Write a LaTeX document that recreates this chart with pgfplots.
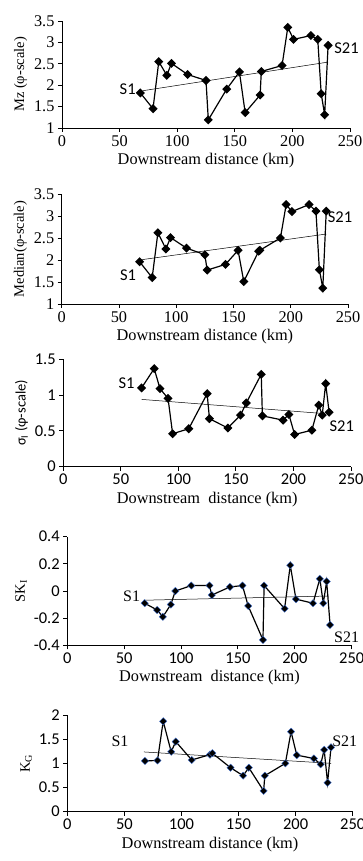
\documentclass[border=0pt]{standalone}
\usepackage{fontspec}
\setmainfont{Liberation Serif}
\newfontfamily\calfont{Carlito}
\usepackage{pgfplots}
\usepackage{pgfplotstable}
\pgfplotsset{compat=1.18}
\definecolor{edgeblue}{RGB}{70,120,220}
\pgfplotsset{
  panel/.style={scale only axis, axis lines*=left, xmin=0, xmax=250,
    xtick={0,50,100,150,200,250}, tick align=outside, major tick length=4pt,
    axis line style={line width=0.9pt}, every tick/.style={black,line width=0.9pt},
    /pgf/number format/assume math mode=true, clip=false, anchor=south west,
    xlabel={Downstream distance (km)},
    label style={font=\fontsize{16.3}{17}\selectfont},
    tick label style={font=\fontsize{16.3}{17}\selectfont},
    ylabel style={font=\fontsize{14.5}{15}\selectfont}},
  calticks/.style={tick label style={font=\calfont\fontsize{16.5}{17}\selectfont}},
  data/.style={black, line width=1.2pt, mark=square*, mark size=2.6pt, mark options={rotate=45, solid}},
  bluedata/.style={black, line width=1.2pt, mark=square*, mark size=2.6pt,
    mark options={rotate=45, solid, fill=black, draw=edgeblue, line width=0.35pt}},
  trend/.style={black, line width=0.5pt, no marks},
}
\pgfplotstableread{
x mz med sig sk kg
68 1.82 1.96 1.10 -0.09 1.05
79 1.45 1.60 1.37 -0.14 1.06
84 2.55 2.62 1.09 -0.19 1.87
91 2.23 2.25 0.955 -0.10 1.24
95 2.51 2.51 0.46 0.00 1.45
109 2.25 2.27 0.53 0.04 1.07
125 2.11 2.12 1.02 0.04 1.18
127 1.19 1.77 0.67 -0.03 1.21
143 1.91 1.90 0.54 0.03 0.91
154 2.31 2.22 0.72 0.04 0.745
159 1.36 1.51 0.89 -0.11 0.91
172 1.77 2.20 1.29 -0.36 0.43
173 2.32 2.22 0.71 0.04 0.745
191 2.46 2.50 0.65 -0.13 1.00
196 3.35 3.26 0.73 0.19 1.655
201 3.07 3.10 0.45 -0.06 1.17
216 3.16 3.26 0.51 -0.09 1.10
222 3.07 3.11 0.86 0.09 0.98
225 1.80 1.78 0.72 -0.09 1.28
228 1.31 1.36 1.16 0.07 0.60
231 2.93 3.11 0.76 -0.25 1.33
}\datatable
\begin{document}
\begin{tikzpicture}
\useasboundingbox (0,0) rectangle (363pt,861pt);
% Panel 1
\begin{axis}[panel, at={(62pt,733pt)}, width=288pt, height=107pt,
  ymin=1, ymax=3.5, ytick={1,1.5,2,2.5,3,3.5},
  ylabel={Mz (φ-scale)}]
\addplot[trend] coordinates {(70,1.87) (231,2.54)};
\addplot[data] table[x=x,y=mz] {\datatable};
\node[font=\calfont\fontsize{16.5}{17}\selectfont] at (axis cs:57,1.91) {S1};
\node[font=\calfont\fontsize{16.5}{17}\selectfont] at (axis cs:247,2.86) {S21};
\end{axis}
% Panel 2
\begin{axis}[panel, at={(61.7pt,557pt)}, width=286.3pt, height=110pt,
  ymin=1, ymax=3.5, ytick={1,1.5,2,2.5,3,3.5},
  ylabel={Median(φ-scale)}]
\addplot[trend] coordinates {(68,2.0) (231,2.59)};
\addplot[data] table[x=x,y=med] {\datatable};
\node[font=\calfont\fontsize{16.5}{17}\selectfont] at (axis cs:58,1.66) {S1};
\node[font=\calfont\fontsize{16.5}{17}\selectfont] at (axis cs:243,2.98) {S21};
\end{axis}
% Panel 3
\begin{axis}[panel, calticks, at={(63.3pt,394.3pt)}, width=287.7pt, height=107.4pt,
  ymin=0, ymax=1.5, ytick={0,0.5,1,1.5},
  xlabel={Downstream\ \ distance (km)},
  ylabel={\calfont σ\textsubscript{I} (φ-scale)}]
\addplot[trend] coordinates {(68,0.94) (224,0.745)};
\addplot[data] table[x=x,y=sig] {\datatable};
\node[font=\calfont\fontsize{16.5}{17}\selectfont] at (axis cs:55,1.165) {S1};
\node[font=\calfont\fontsize{16.5}{17}\selectfont] at (axis cs:242,0.57) {S21};
\end{axis}
% Panel 4
\begin{axis}[panel, calticks, at={(67.3pt,215.7pt)}, width=284.4pt, height=108.6pt,
  ymin=-0.4, ymax=0.4, ytick={-0.4,-0.2,0,0.2,0.4},
  xlabel={Downstream\ \ distance (km)},
  ylabel={SK\textsubscript{I}}]
\addplot[trend] coordinates {(67,-0.068) (230,-0.037)};
\addplot[bluedata] table[x=x,y=sk] {\datatable};
\node[font=\fontsize{16}{17}\selectfont] at (axis cs:56.6,-0.037) {S1};
\node[font=\fontsize{16}{17}\selectfont] at (axis cs:245.6,-0.344) {S21};
\end{axis}
% Panel 5
\begin{axis}[panel, calticks, at={(67.3pt,49.3pt)}, width=285.4pt, height=96.7pt,
  ymin=0, ymax=2, ytick={0,0.5,1,1.5,2},
  ylabel={K\textsubscript{G}}]
\addplot[trend] coordinates {(67,1.236) (231,1.0)};
\addplot[bluedata] table[x=x,y=kg] {\datatable};
\node[font=\fontsize{16}{17}\selectfont] at (axis cs:46.2,1.45) {S1};
\node[font=\fontsize{16}{17}\selectfont] at (axis cs:243,1.45) {S21};
\end{axis}
\end{tikzpicture}
\end{document}
